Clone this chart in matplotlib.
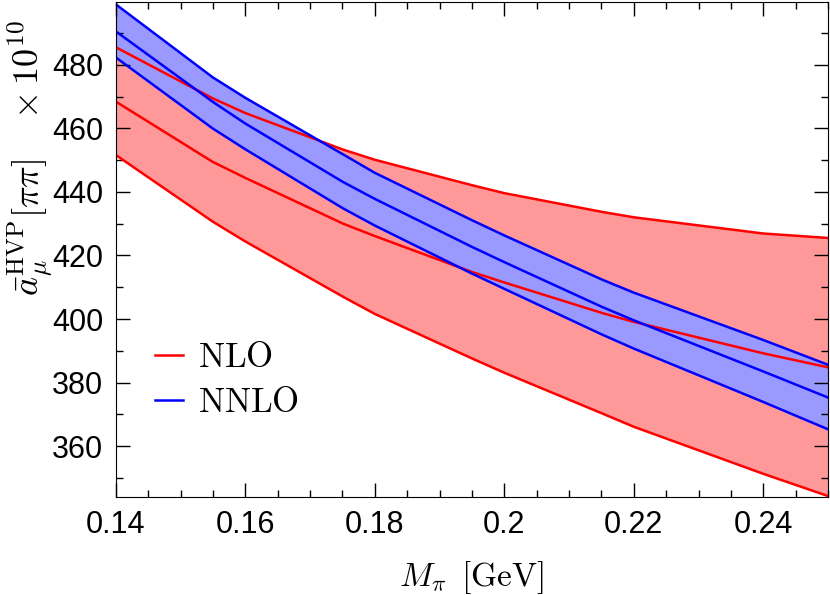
import matplotlib
matplotlib.use("Agg")
import matplotlib.pyplot as plt
from matplotlib.ticker import MultipleLocator, FuncFormatter

plt.rcParams["mathtext.fontset"] = "cm"
plt.rcParams["font.family"] = ["Liberation Sans", "DejaVu Sans"]

# values
mpi = [0.14, 0.155, 0.16, 0.1751, 0.18, 0.195, 0.20, 0.2151, 0.22, 0.24, 0.25]
nlo_up = [485.5, 469.4, 464.8, 453.3, 450.1, 442.1, 439.6, 433.7, 432.0, 426.9, 425.5]
nlo_mid = [468.4, 449.4, 444.4, 430.0, 426.1, 414.8, 411.5, 401.9, 399.1, 389.2, 384.8]
nlo_lo = [451.6, 430.6, 424.4, 407.0, 401.6, 387.6, 383.1, 370.3, 366.1, 351.3, 344.3]
nnlo_up = [499.0, 476.0, 469.6, 451.8, 446.0, 431.1, 426.3, 412.4, 408.3, 393.4, 385.6]
nnlo_mid = [490.5, 468.3, 461.5, 443.1, 437.8, 422.7, 417.9, 403.8, 399.6, 383.5, 375.3]
nnlo_lo = [482.3, 459.9, 453.4, 434.8, 429.4, 414.3, 409.5, 395.1, 390.7, 373.9, 365.3]

fig = plt.figure(figsize=(8.3, 5.95), dpi=100)
ax = fig.add_axes([0.1395, 0.1647, 0.8581, 0.8323])

ax.fill_between(mpi, nlo_lo, nlo_up, color="#ff9999", lw=0)
ax.fill_between(mpi, nnlo_lo, nnlo_up, color="#9999ff", lw=0)
for y in (nlo_up, nlo_mid, nlo_lo):
    ax.plot(mpi, y, color="red", lw=1.8)
for y in (nnlo_up, nnlo_mid, nnlo_lo):
    ax.plot(mpi, y, color="blue", lw=1.8)

ax.plot([], [], color="red", lw=1.8, label=r"$\mathrm{NLO}$")
ax.plot([], [], color="blue", lw=1.8, label=r"$\mathrm{NNLO}$")
ax.legend(loc="lower left", bbox_to_anchor=(0.011, 0.094), frameon=False,
          fontsize=25, handlelength=0.8, handletextpad=0.45, labelspacing=0.35)

ax.set_xlim(0.14, 0.25)
ax.set_ylim(344, 499.8)
ax.xaxis.set_major_locator(MultipleLocator(0.02))
ax.xaxis.set_minor_locator(MultipleLocator(0.005))
ax.yaxis.set_major_locator(MultipleLocator(20))
ax.yaxis.set_minor_locator(MultipleLocator(10))
ax.xaxis.set_major_formatter(FuncFormatter(lambda v, p: "%g" % round(v, 3)))
ax.tick_params(which="both", direction="in", top=True, right=True, labelsize=22)
ax.tick_params(which="major", length=10, width=1)
ax.tick_params(which="minor", length=5, width=1)
ax.tick_params(axis="x", pad=9)
ax.tick_params(axis="y", pad=9)

ax.set_xlabel(r"$M_\pi\ \, [\mathrm{GeV}]$", fontsize=24, labelpad=14)
ax.set_ylabel(r"$\bar{a}_\mu^{\mathrm{HVP}}[\pi\pi]\quad \times 10^{10}$", fontsize=26)
ax.yaxis.set_label_coords(-0.085, 0.685)

fig.savefig("out.png", dpi=100)
